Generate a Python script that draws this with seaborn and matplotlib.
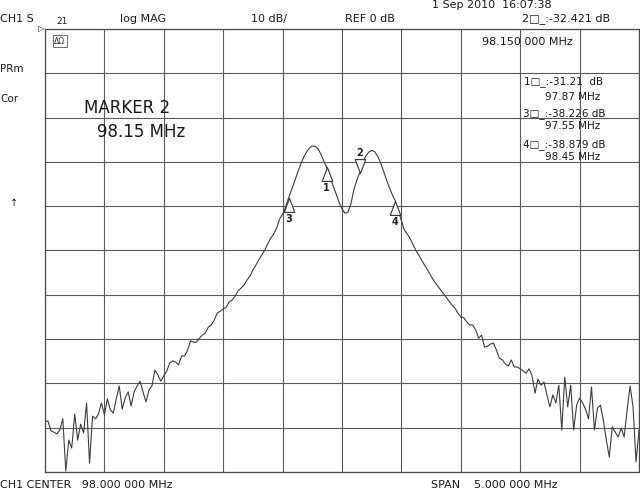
import numpy as np
import pandas as pd
import matplotlib
matplotlib.use("Agg")
import matplotlib.pyplot as plt
import seaborn as sns
from matplotlib.path import Path

# ---------------- data ----------------
CENTER_MHZ = 98.0
SPAN_MHZ = 5.0
N_POINTS = 201
REF_DB = 0.0
DB_PER_DIV = 10.0
N_DIV = 10

mag_db = [
    -88.6, -88.5, -90.7, -91.0, -91.4, -90.5, -88.0, -99.8, -92.8, -94.6,
    -86.9, -92.8, -89.2, -91.2, -84.4, -98.0, -87.4, -88.0, -86.9, -84.4,
    -87.1, -83.5, -86.0, -86.7, -83.5, -80.6, -85.8, -83.3, -81.9, -85.1,
    -81.9, -80.6, -79.5, -81.9, -84.2, -81.5, -80.6, -77.0, -78.1, -79.5,
    -78.3, -77.2, -75.4, -74.9, -75.2, -75.8, -73.8, -73.8, -72.5, -70.4,
    -70.7, -70.7, -69.8, -69.1, -68.6, -67.3, -66.8, -65.7, -64.1, -63.7,
    -63.2, -62.8, -61.6, -61.2, -60.3, -59.1, -58.5, -57.8, -56.7, -55.8,
    -54.4, -53.3, -52.1, -51.0, -49.9, -48.5, -47.2, -46.3, -44.9, -42.9,
    -41.8, -40.2, -38.2, -36.3, -34.5, -32.5, -30.7, -29.1, -27.8, -26.9,
    -26.4, -26.5, -27.1, -28.4, -30.0, -31.5, -33.4, -35.4, -37.2, -39.1,
    -40.6, -41.6, -41.3, -39.5, -36.3, -34.1, -32.4, -30.0, -28.7, -27.8,
    -27.4, -27.7, -28.7, -30.2, -32.1, -34.1, -35.9, -37.5, -38.9, -41.1,
    -43.3, -45.4, -46.3, -47.4, -48.8, -50.1, -51.2, -52.4, -53.5, -54.6,
    -55.8, -56.9, -57.8, -58.7, -59.6, -60.5, -61.4, -62.3, -63.0, -64.1,
    -65.0, -65.2, -66.1, -66.8, -66.8, -67.9, -69.8, -69.1, -71.8, -71.6,
    -71.1, -70.9, -72.5, -74.3, -74.7, -75.6, -76.1, -74.7, -76.3, -76.3,
    -76.7, -77.2, -77.7, -76.7, -78.3, -82.2, -79.0, -80.4, -79.7, -82.6,
    -85.3, -82.6, -84.4, -80.4, -90.5, -78.6, -85.3, -80.4, -90.5, -84.9,
    -83.3, -84.4, -85.8, -88.0, -80.8, -90.5, -85.6, -84.9, -88.3, -92.8,
    -96.6, -89.8, -91.0, -92.1, -90.1, -92.1, -86.0, -80.6, -85.3, -97.7,
    -90.5,
]

marker_ids = ["1", "2", "3", "4"]
marker_freq = [97.87, 98.15, 97.55, 98.45]
marker_db = [-31.21, -32.421, -38.226, -38.879]
active_marker = "2"

readout_lines = [
    ("1\u25a1_:-31.21  dB", "97.87 MHz"),
    ("3\u25a1_:-38.226 dB", "97.55 MHz"),
    ("4\u25a1_:-38.879 dB", "98.45 MHz"),
]

# ---------------- figure ----------------
sns.set_theme(style="white")
plt.rcParams["font.family"] = ["DejaVu Sans"]

W, H = 640, 490
fig = plt.figure(figsize=(W / 100, H / 100), dpi=100)
fig.patch.set_facecolor("white")
ax = fig.add_axes([45 / W, 18 / H, 594 / W, 443 / H])

f_start = CENTER_MHZ - SPAN_MHZ / 2
f_stop = CENTER_MHZ + SPAN_MHZ / 2
freq = np.linspace(f_start, f_stop, N_POINTS)
df = pd.DataFrame({"freq": freq, "mag": mag_db})

sns.lineplot(data=df, x="freq", y="mag", ax=ax, color="#3c3c3c",
             linewidth=0.8, zorder=3)

ax.set_xlim(f_start, f_stop)
ax.set_ylim(REF_DB - DB_PER_DIV * N_DIV, REF_DB)
ax.set_xticks(np.linspace(f_start, f_stop, N_DIV + 1))
ax.set_yticks(np.linspace(REF_DB - DB_PER_DIV * N_DIV, REF_DB, N_DIV + 1))
ax.tick_params(length=0, labelbottom=False, labelleft=False)
ax.set_xlabel("")
ax.set_ylabel("")
ax.grid(True, color="#5a5a5a", linewidth=0.8)
for s in ax.spines.values():
    s.set_color("#4a4a4a")
    s.set_linewidth(0.9)

# marker triangles
up_tri = Path([(0, 0), (-0.38, -1), (0.38, -1), (0, 0)],
              [Path.MOVETO, Path.LINETO, Path.LINETO, Path.CLOSEPOLY])
down_tri = Path([(0, 0), (-0.38, 1), (0.38, 1), (0, 0)],
                [Path.MOVETO, Path.LINETO, Path.LINETO, Path.CLOSEPOLY])
for mid, mf, md in zip(marker_ids, marker_freq, marker_db):
    active = mid == active_marker
    ax.plot([mf], [md], ls="none", marker=down_tri if active else up_tri,
            ms=20, mfc="white", mec="#333333", mew=0.8, zorder=4)
    ax.annotate(mid, (mf, md), xytext=(0, 14 if active else -15),
                textcoords="offset points", ha="center", va="center",
                fontsize=7, fontweight="bold", color="#222222")


def ftext(x, y, s, size=8, ha="center", **kw):
    fig.text(x / W, 1 - y / H, s, fontsize=size, ha=ha, va="center",
             color="#1a1a1a", **kw)


ftext(492, 5, "1 Sep 2010  16:07:38")
ftext(0, 19, "CH1 S", ha="left")
ftext(62, 22, "21", size=6.5)
ftext(143, 19, "log MAG")
ftext(269, 19, "10 dB/")
ftext(370, 19, "REF 0 dB")
ftext(566, 19, "2\u25a1_:-32.421 dB")
ftext(527, 42, "98.150 000 MHz")
ftext(0, 69, "PRm", ha="left", size=7.5)
ftext(0, 99, "Cor", ha="left", size=7.5)
ftext(14, 203, "\u2191", size=7)
ftext(127, 108, "MARKER 2", size=12)
ftext(141, 132, "98.15 MHz", size=12)
ftext(41, 29, "\u25b7", size=6)
fig.text(60 / W, 1 - 41 / H, "\u0394\u03a9", fontsize=5.5, ha="center",
         va="center", color="#333333",
         bbox=dict(boxstyle="square,pad=0.15", fc="white", ec="#555555", lw=0.6))

ys = [(82, 97), (114, 126), (145, 157)]
for (l1, l2), (y1, y2) in zip(readout_lines, ys):
    ftext(564, y1, l1, size=7.5)
    ftext(573, y2, l2, size=7.5)

ftext(0, 485, "CH1 CENTER   98.000 000 MHz", ha="left")
ftext(494, 485, "SPAN    5.000 000 MHz")

fig.savefig("out.png", dpi=100, facecolor="white")
